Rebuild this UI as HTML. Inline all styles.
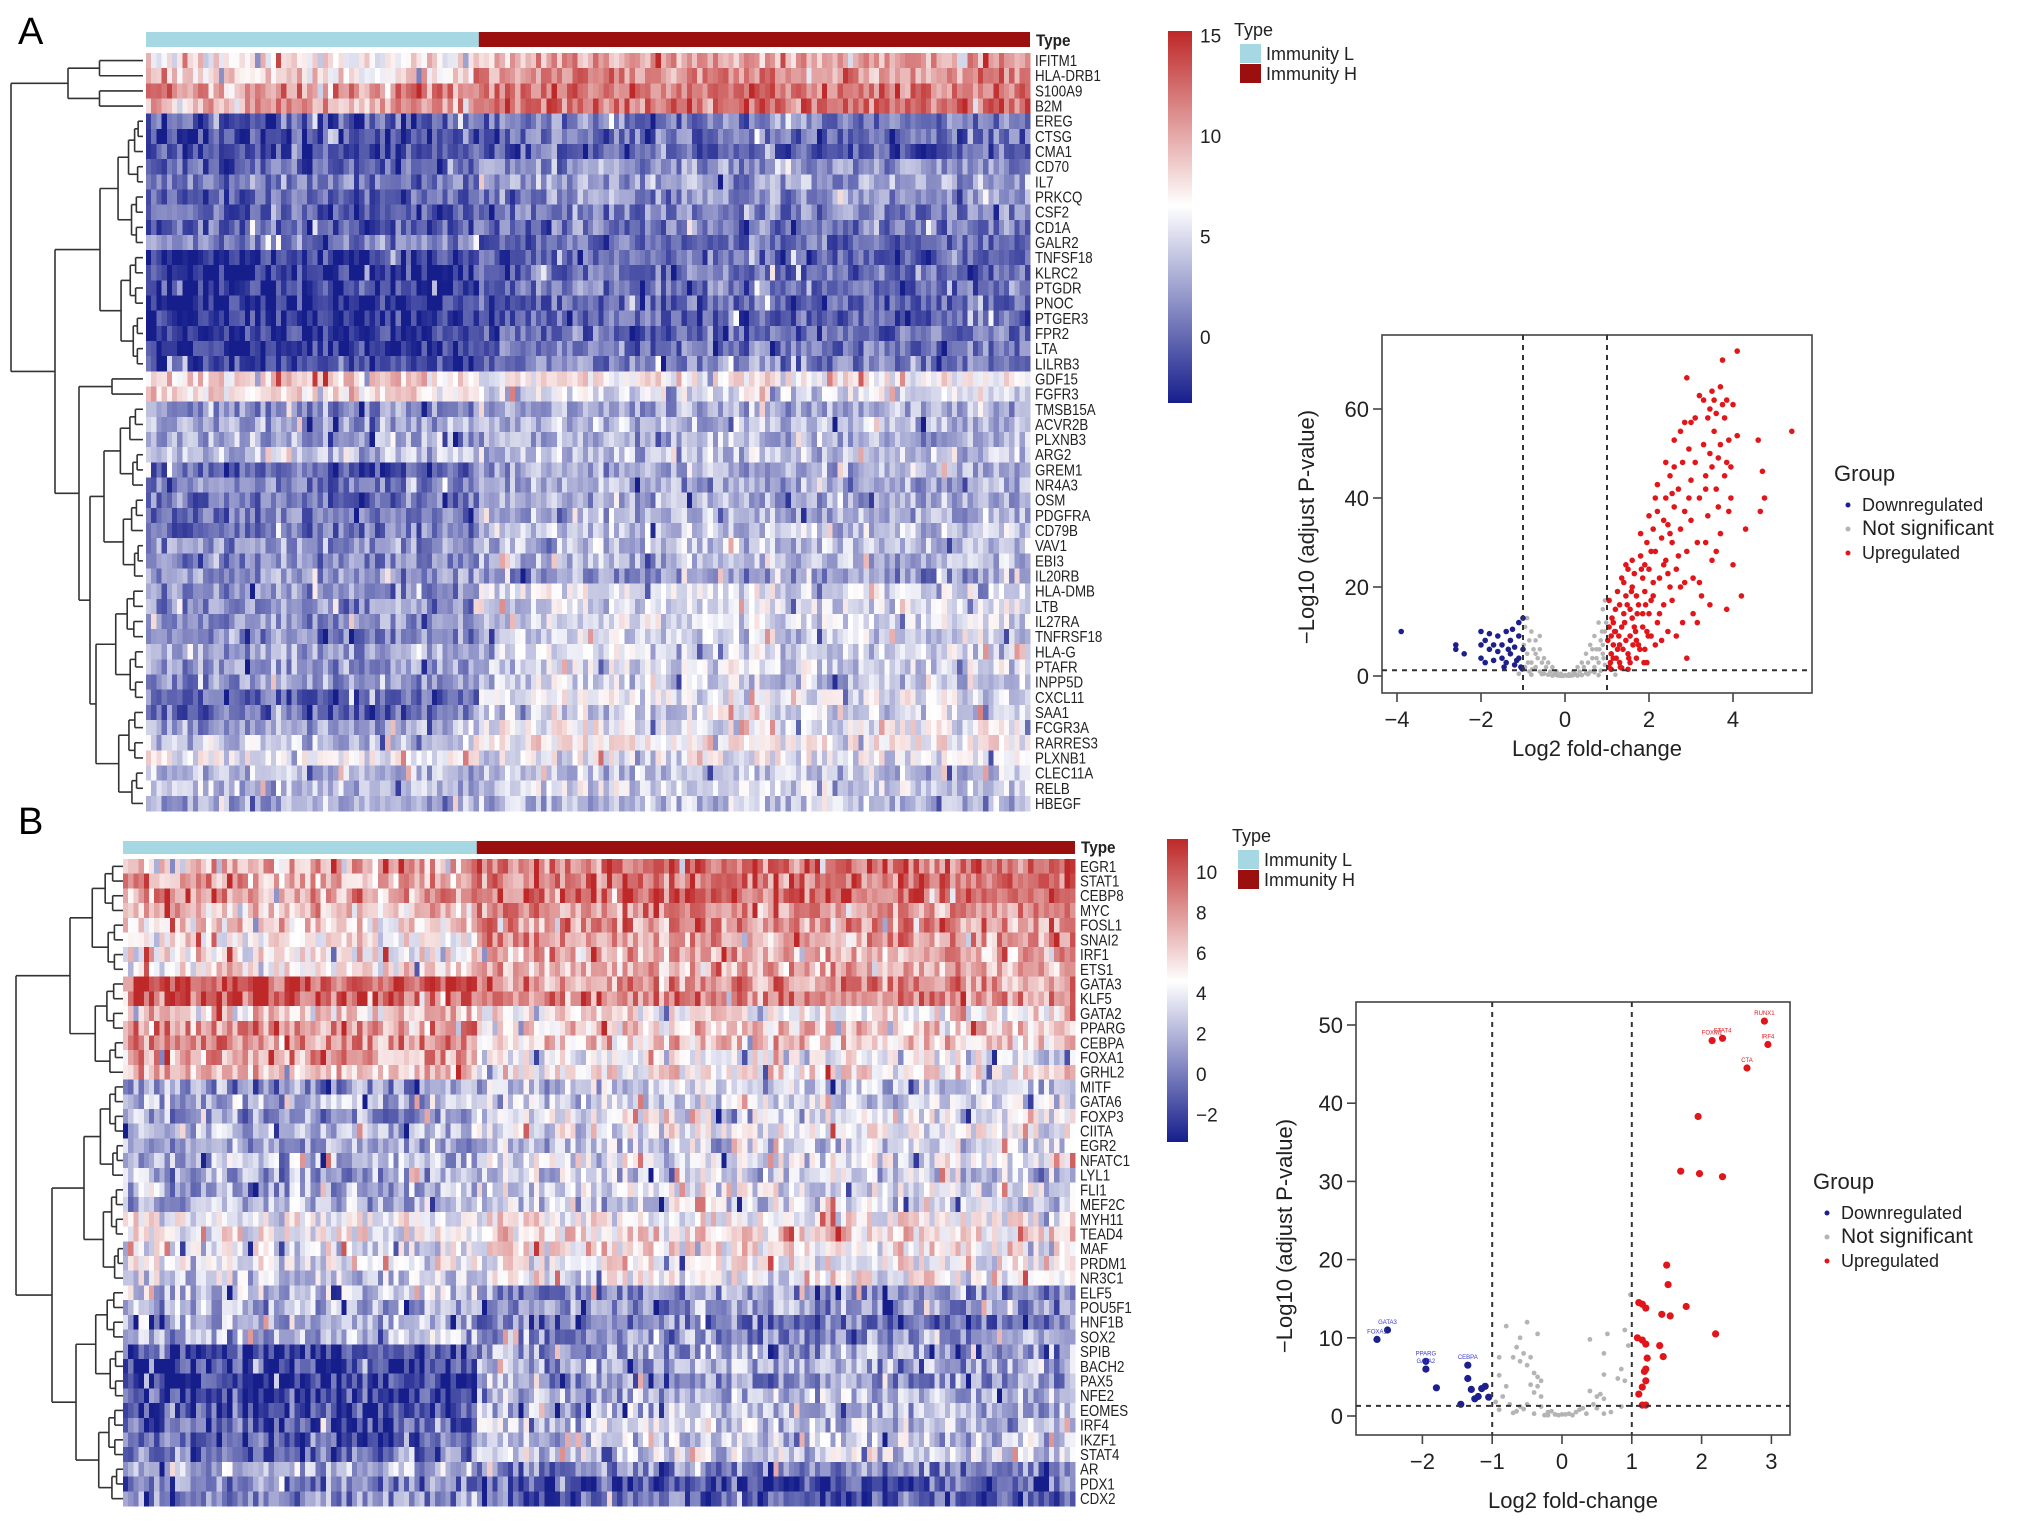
<!DOCTYPE html>
<html><head><meta charset="utf-8">
<style>
html,body{margin:0;padding:0;background:#fff;}
body{width:2031px;height:1527px;overflow:hidden;position:relative;font-family:"Liberation Sans",Arial,sans-serif;}
svg{position:absolute;left:0;top:0;}
</style></head>
<body>
<svg id="fig" width="2031" height="1527" viewBox="0 0 2031 1527" xmlns="http://www.w3.org/2000/svg">
  <defs>
    <linearGradient id="gradA" x1="0" y1="0" x2="0" y2="1">
      <stop offset="0" stop-color="rgb(190,40,40)"/>
      <stop offset="0.47" stop-color="#ffffff"/>
      <stop offset="1" stop-color="rgb(22,30,140)"/>
    </linearGradient>
    <linearGradient id="gradB" x1="0" y1="0" x2="0" y2="1">
      <stop offset="0" stop-color="rgb(190,40,40)"/>
      <stop offset="0.47" stop-color="#ffffff"/>
      <stop offset="1" stop-color="rgb(22,30,140)"/>
    </linearGradient>
  </defs>
  <text x="18" y="44" font-size="38" font-family="Liberation Sans">A</text>
  <text x="18" y="834" font-size="38" font-family="Liberation Sans">B</text>
  <g id="heatA"></g>
  <g id="heatB"></g>
  <g id="volA"></g>
  <g id="volB"></g>
</svg>
<script>
// ===== Heatmap A data =====
const genesA = ["IFITM1","HLA-DRB1","S100A9","B2M","EREG","CTSG","CMA1","CD70","IL7","PRKCQ","CSF2","CD1A","GALR2","TNFSF18","KLRC2","PTGDR","PNOC","PTGER3","FPR2","LTA","LILRB3","GDF15","FGFR3","TMSB15A","ACVR2B","PLXNB3","ARG2","GREM1","NR4A3","OSM","PDGFRA","CD79B","VAV1","EBI3","IL20RB","HLA-DMB","LTB","IL27RA","TNFRSF18","HLA-G","PTAFR","INPP5D","CXCL11","SAA1","FCGR3A","RARRES3","PLXNB1","CLEC11A","RELB","HBEGF"];
const meanLowA = [7,8,11,10,0,-1,-1,0,1,0,0,0,1,-2,-2,-2,-2,-2,-2,-2,-1,8,8,2,3,3,4,0,1,0.5,1,1,2,1.5,2,2,2,2,1.5,2.5,2.5,2,0,0,3,4,6,3.5,4,3];
const meanHighA = [10,11,12,12,1,0.5,0,2,2.5,2,1.5,1,0.5,0,0.5,0.5,0,0,0.5,1,1.5,7,5,3,3.5,3,4,3,3,3,3.5,4,4,3.5,2,5.5,5,5,4.5,5,5,4.5,5.5,5,6,7,5.5,4,5,4];
const ticksA = [15,10,5,0];
// ===== Heatmap B data =====
const genesB = ["EGR1","STAT1","CEBP8","MYC","FOSL1","SNAI2","IRF1","ETS1","GATA3","KLF5","GATA2","PPARG","CEBPA","FOXA1","GRHL2","MITF","GATA6","FOXP3","CIITA","EGR2","NFATC1","LYL1","FLI1","MEF2C","MYH11","TEAD4","MAF","PRDM1","NR3C1","ELF5","POU5F1","HNF1B","SOX2","SPIB","BACH2","PAX5","NFE2","EOMES","IRF4","IKZF1","STAT4","AR","PDX1","CDX2"];
const meanLowB = [7,7,7.5,6,5.5,5,5,5.5,9.5,9.5,6,8,8,7.5,6.5,1,2,1,2,1.5,2,1.5,2,2,4,4.5,3.5,3.5,3,2.5,2,2,2,-1.5,-2,-2,-1.5,-1.5,-1,-1,0,2,0,0.5];
const meanHighB = [9,9,9.5,8,8,7.5,7,7,8,8.5,5,6,6,4,5,2.5,3,3.5,4,3,3.5,3,3.5,3,4.5,5.5,5,4.5,4.5,0.5,1,0,1,1.5,1.5,1,2,2,2.5,2.5,3,0.5,-1,-1];
const ticksB = [10,8,6,4,2,0,-2];
// ===== Volcano A data =====
const upAx = [1.05,1.1,1.1,1.15,1.2,1.05,1.3,1.3,1.35,1.4,1.45,1.5,1.5,1.55,1.6,1.6,1.65,1.7,1.7,1.75,1.8,1.85,1.9,1.9,1.95,2.0,2.0,2.05,2.1,2.1,2.15,2.2,2.2,2.25,2.3,2.35,2.4,2.4,2.45,2.5,2.5,2.55,2.6,2.6,2.65,2.7,2.75,2.8,2.8,2.85,2.85,2.9,2.9,2.95,3.0,3.0,3.05,3.1,3.1,3.15,3.2,3.25,3.3,3.3,3.35,3.4,3.45,3.45,3.5,3.5,3.55,3.6,3.6,3.65,3.7,3.7,3.75,3.8,3.8,3.85,3.9,3.9,4.0,4.1,4.0,4.1,3.85,4.2,4.3,4.65,4.75,4.7,4.6,5.4,2.9,3.6,3.2,1.25,1.35,1.45,1.55,1.65,1.75,1.85,1.95,2.05,2.15,2.25,2.35,2.45,2.55,2.65,2.75,1.15,1.2,1.4,1.6,1.8,2.0,2.2,2.4,2.6,2.75,3.0,3.2,3.4,3.55,3.75,3.95,3.65,3.35,3.05,2.95,1.1,1.3,1.5,1.7,1.9,2.1,2.3,2.5,2.7,1.25,1.55,1.45,1.85,2.15,2.35,2.55,3.35,3.5,3.7,3.85,1.05,1.15,1.35,1.95,2.05,2.45,2.85,3.15,3.45,3.95,1.02,1.08,1.12,1.18,1.22,1.28,1.32,1.38,1.42,1.48,1.52,1.58,1.62,1.68,1.72,1.78,1.82,1.88,1.92,1.98];
const upAy = [2,5,9,12,15,17,3,7,11,14,18,1.5,5,9,13,20,23,4,8,16,27,11,6,19,30,14,24,9,33,18,28,12,37,22,31,16,26,40,34,20,45,30,38,53,24,42,33,48,12,57,37,4,28,51,44,35,22,58,48,30,40,18,52,62,45,36,60,50,64,26,55,42,59,49,65,32,71,58,45,62,37,53,61,73,25,54,15,18,33,37,40,46,53,55,67,28,21,6,1.8,8,3,11,7,22,3,17,7,14,25,10,17,9,20,4,10,21,26,32,36,43,48,47,55,57,63,58,62,61,47,38,30,14,40,1.5,16,24,18,25,21,8,32,27,19,15,25,14,40,35,41,42,47,52,48,11,7,22,10,28,23,21,12,16,40,8,3,13,10,4,9,2,6,12,16,4,19,7,10,14,6,24,3,16,9];
const downAx = [-3.9,-2.6,-2.6,-2.4,-2,-2,-1.9,-1.8,-1.8,-1.7,-1.6,-1.6,-1.5,-1.5,-1.4,-1.4,-1.3,-1.3,-1.2,-1.2,-1.1,-1.1,-1.1,-1.05,-1.0,-1.0,-2,-1.9,-1.7,-1.25,-1.45,-1.15,-1.02,-1.35];
const downAy = [10,7,6,5,10,7,8,9.5,6,3.5,9,5.5,7,4,10,3,8,5,2.5,6.5,12,4,9,2,13,6,4,3,7,10.5,2,3.5,1.6,6];
const nsAx = [-0.9,-0.8,-0.7,-0.6,-0.5,-0.4,-0.3,-0.2,-0.1,0,0.1,0.2,0.3,0.4,0.5,0.6,0.7,0.8,0.9,0.95,-0.95,-0.85,-0.75,-0.65,-0.55,-0.45,-0.35,-0.25,0.25,0.35,0.45,0.55,0.65,0.75,0.85,0.95,-0.9,-0.8,-0.7,-0.6,-0.5,0.5,0.6,0.7,0.8,0.9,-0.95,-0.85,0.85,0.95,-0.15,0.15,-0.05,0.05,-0.98,0.98,0.9,0.75,-0.7,-0.6,0.65,-0.4,0.4,1.2,-1.1,0.8,-0.8,0.3,-0.3,0.1,-0.1,0.2,-0.2,0.55,-0.55,0.7,0.88,0.92,0.82,-0.88,-0.78];
const nsAy = [13,10,8,6,4,3,2,1,0.5,0.2,0.4,1,2,3,5,7,9,12,15,17,11,8,6,4,3,2,1,0.5,0.4,1,2,3,4,6,8,10,5,3,2,1,0.5,0.6,1,2,3,5,2,1,1.2,2.5,0.1,0.1,0,0.1,7,12,7,4,5,9,6,0.3,0.2,0.3,0.5,0.2,0.3,0.1,0.1,0.05,0.05,0.2,0.2,0.4,0.4,0.8,10,4,6,3,1.5];
const xTicksA = [-4,-2,0,2,4];
const yTicksA = [0,20,40,60];
// ===== Volcano B data =====
const upBx = [2.9,2.15,2.3,2.95,2.65,1.95,1.7,1.97,2.3,1.5,1.52,1.78,1.43,1.55,1.1,1.15,1.2,2.2,1.08,1.15,1.2,1.4,1.45,1.22,1.2,1.18,1.2,1.15,1.1,1.2,1.15];
const upBy = [50.5,48,48.3,47.5,44.5,38.3,31.3,31,30.6,19.3,16.8,14,13,12.8,14.5,14.3,13.8,10.5,10,9.7,9.2,9,7.6,7.4,6,5.7,4.5,3.7,2.8,1.4,1.4];
const downBx = [-2.65,-2.5,-1.95,-1.95,-1.8,-1.35,-1.35,-1.3,-1.1,-1.2,-1.25,-1.45,-1.05,-1.15];
const downBy = [9.8,11,6,7,3.6,6.5,4.8,3.4,3.8,2.5,2.2,1.5,2.4,3.5];
const nsBx = [-0.8,-0.5,-0.35,-0.6,-0.65,-0.55,-0.45,-0.6,-0.9,-0.7,-0.5,-0.4,-0.35,-0.3,-0.45,-0.35,-0.8,-0.9,-0.4,-0.3,-0.85,-0.75,-0.6,-0.5,-0.3,-0.2,-0.1,0,0.1,0.2,-0.9,-0.7,-0.4,0.3,0.4,0.5,0.55,0.6,0.45,0.6,0.4,0.65,0.6,0.6,0.8,0.85,0.9,0.95,0.9,0.98,0.85,-0.55,-0.25,0.15,-0.15,0.25,0.5,0.7,-0.2,-0.05,0.05,0.35,-0.65,-0.95];
const nsBy = [11.5,12,10.5,10,8.8,8,7.5,7,7.5,7.5,6.5,5.5,5,4.5,4,3.8,3.8,5.2,3,2.5,2.5,1.5,1.2,1.5,1.2,0.5,0.2,0.2,0.3,0.5,0.8,0.4,0.3,1,3.2,2.5,2.8,2.2,1.5,0.3,9.8,10.5,8,5.3,4.8,6,11,9,4.5,15.5,1.2,0.9,0.1,0.1,0.6,0.8,1,0.5,0.1,0.1,0.2,0.3,0.6,1.8];
const labelsB = [["RUNX1",2.9,50.5],["FOXM1",2.15,48],["STAT4",2.3,48.3],["IRF4",2.95,47.5],["CTA",2.65,44.5],["FOXA1",-2.65,9.8],["GATA3",-2.5,11],["PPARG",-1.95,7],["GATA2",-1.95,6],["CEBPA",-1.35,6.5]];
const xTicksB = [-2,-1,0,1,2,3];
const yTicksB = [0,10,20,30,40,50];

const NS = "http://www.w3.org/2000/svg";
function mk(tag, attrs, parent){
  const e = document.createElementNS(NS, tag);
  for (const k in attrs) e.setAttribute(k, attrs[k]);
  parent.appendChild(e);
  return e;
}
function hash(i, j, s){
  let h = (i*374761393 + j*668265263 + s*2147483647) | 0;
  h = (h ^ (h >>> 13)) * 1274126177 | 0;
  h = h ^ (h >>> 16);
  return ((h >>> 0) % 10000) / 10000;
}
function colorOf(v, vmin, mid, vmax){
  let r,g,b;
  if (v < mid){
    const t = Math.max(0, Math.min(1, (mid - v)/(mid - vmin)));
    r = 255 + (22-255)*t; g = 255 + (30-255)*t; b = 255 + (140-255)*t;
  } else {
    const t = Math.max(0, Math.min(1, (v - mid)/(vmax - mid)));
    r = 255 + (190-255)*t; g = 255 + (40-255)*t; b = 255 + (40-255)*t;
  }
  return "rgb("+Math.round(r)+","+Math.round(g)+","+Math.round(b)+")";
}
function addText(parent, x, y, str, size, anchor, extra){
  const t = mk("text", Object.assign({x:x, y:y, "font-size":size, "text-anchor":anchor||"start", fill:"#222"}, extra||{}), parent);
  t.textContent = str;
  return t;
}

function drawHeatmap(g, cfg){
  const nR = cfg.genes.length, nC = cfg.nCols;
  const cw = (cfg.x1 - cfg.x0)/nC, rh = (cfg.y1 - cfg.y0)/nR;
  const yOf = i => cfg.y0 + (i + 0.5)*rh;
  const tbL = mk("rect", {x:cfg.x0, y:cfg.ty0, width:cfg.nLow*cw, height:cfg.ty1-cfg.ty0, fill:"#a6d8e4"}, g);
  
  
  const tbH = mk("rect", {x:cfg.x0 + cfg.nLow*cw, y:cfg.ty0, width:(nC-cfg.nLow)*cw, height:cfg.ty1-cfg.ty0, fill:"#9b0f0f"}, g);
  
  
  const tl = addText(g, cfg.x1+6, cfg.ty1-1, "Type", 17, "start", {"font-family":"Liberation Sans Narrow, Liberation Sans, sans-serif", "font-weight":"bold", transform:"translate("+(cfg.x1+6)+",0) scale(0.9,1) translate("+(-(cfg.x1+6))+",0)"});
  
  
  const cells = mk("g", {"shape-rendering":"crispEdges"}, g);
  for (let i=0;i<nR;i++){
    for (let j=0;j<nC;j++){
      const base = j < cfg.nLow ? cfg.low[i] : cfg.high[i];
      let n = (hash(i,j,cfg.seed) - 0.5)*5 + (hash(j,7,cfg.seed)-0.5)*1.5;
      const o = hash(i,j,cfg.seed+11);
      if (o > 0.965) n += 4; else if (o < 0.035) n -= 4;
      const v = base + n;
      const c = mk("rect", {x:(cfg.x0 + j*cw).toFixed(2), y:(cfg.y0 + i*rh).toFixed(2), width:(cw+0.4).toFixed(2), height:(rh+0.4).toFixed(2), fill:colorOf(v, cfg.vmin, cfg.mid, cfg.vmax)}, cells);
      
      
    }
  }
  const lx = cfg.x1+5;
  const lab = mk("g", {transform:"translate("+lx+",0) scale(0.86,1)"}, g);
  for (let i=0;i<nR;i++){
    const t = addText(lab, 0, yOf(i)+5.5, cfg.genes[i], cfg.labelSize, "start", {"font-family":"Liberation Sans Narrow, Liberation Sans, sans-serif"});
    
    
  }
  const dg = mk("g", {stroke:"#333", "stroke-width":1.6, fill:"none"}, g);
  function line(x1,y1,x2,y2){ mk("line",{x1:x1,y1:y1,x2:x2,y2:y2},dg); }
  function auto(lo, hi, x){
    if (lo === hi) return {x:cfg.dx1, y:yOf(lo)};
    const m = Math.floor((lo+hi)/2);
    const cx = x + (cfg.dx1 - x)*0.42;
    const a = auto(lo, m, cx), b = auto(m+1, hi, cx + (hi-lo>3?3:0));
    join(x, a, b);
    return {x:x, y:(a.y+b.y)/2};
  }
  function join(x, a, b){
    line(x, a.y, x, b.y); line(x, a.y, a.x, a.y); line(x, b.y, b.x, b.y);
  }
  function walk(node){
    if (node[0] === 'r') return auto(node[1], node[2], node[3]);
    const a = walk(node[2]), b = walk(node[3]);
    join(node[1], a, b);
    return {x:node[1], y:(a.y+b.y)/2};
  }
  walk(cfg.tree);
  const cb = mk("rect", {x:cfg.cbx, y:cfg.cby0, width:cfg.cbw, height:cfg.cby1-cfg.cby0, fill:cfg.grad}, g);
  
  
  const cbScale = v => cfg.cbZero - v*cfg.cbPer;
  cfg.ticks.forEach(v=>{
    const t = addText(g, cfg.cbx+cfg.cbw+8, cbScale(v)+7, String(v).replace('-','\u2212'), 19, "start");
    
    
  });
  const lg = mk("g", {}, g);
  
  
  addText(lg, cfg.lx-4, cfg.ly, "Type", 18, "start");
  const s1 = mk("rect", {x:cfg.lx+2, y:cfg.ly+8, width:21, height:19, fill:"#a6d8e4"}, lg);
  
  
  addText(lg, cfg.lx+28, cfg.ly+24, "Immunity  L", 18, "start");
  const s2 = mk("rect", {x:cfg.lx+2, y:cfg.ly+28, width:21, height:19, fill:"#9b0f0f"}, lg);
  
  
  addText(lg, cfg.lx+28, cfg.ly+44, "Immunity  H", 18, "start");
}

drawHeatmap(document.getElementById("heatA"), {
  genes:genesA, low:meanLowA, high:meanHighA, nCols:170, nLow:64, seed:3,
  x0:146, x1:1030, y0:53, y1:811, ty0:32, ty1:47, labelSize:15.5,
  vmin:-3, mid:6.5, vmax:15, dx1:143,
  tree:['n',11,['r',0,3,68],['n',55,['r',4,20,100],['n',79,['r',21,22,112],['n',90,['r',23,34,104],['r',35,49,96]]]]],
  cbx:1168, cbw:24, cby0:31, cby1:403, cbZero:337, cbPer:20.1, grad:"url(#gradA)", ticks:ticksA,
  lx:1238, ly:36
});
drawHeatmap(document.getElementById("heatB"), {
  genes:genesB, low:meanLowB, high:meanHighB, nCols:183, nLow:68, seed:9,
  x0:123, x1:1075, y0:859, y1:1506, ty0:841, ty1:854, labelSize:15.5,
  vmin:-3, mid:4.5, vmax:11.5, dx1:123,
  tree:['n',16,['r',0,14,70],['n',52,['r',15,28,84],['r',29,43,76]]],
  cbx:1167, cbw:21, cby0:839, cby1:1142, cbZero:1074, cbPer:20.2, grad:"url(#gradB)", ticks:ticksB,
  lx:1236, ly:842
});

function drawVolcano(g, cfg){
  const xs = v => cfg.xz + v*cfg.xp, ys = v => cfg.yz - v*cfg.yp;
  const box = mk("rect", {x:cfg.bx0, y:cfg.by0, width:cfg.bx1-cfg.bx0, height:cfg.by1-cfg.by0, fill:"none", stroke:"#444", "stroke-width":1.6}, g);
  
  
  const cp = "clip"+cfg.id;
  const cl = mk("clipPath", {id:cp}, g);
  mk("rect", {x:cfg.bx0, y:cfg.by0, width:cfg.bx1-cfg.bx0, height:cfg.by1-cfg.by0}, cl);
  const pts = mk("g", {"clip-path":"url(#"+cp+")"}, g);
  function series(X, Y, col, r, name){
    for (let i=0;i<X.length;i++){
      const c = mk("circle", {cx:xs(X[i]).toFixed(1), cy:ys(Y[i]).toFixed(1), r:r, fill:col}, pts);
      
      
    }
  }
  series(cfg.nsX, cfg.nsY, "#b4b4b4", cfg.rs, "point-not-significant");
  series(cfg.dnX, cfg.dnY, "#1c1f8c", cfg.r, "point-downregulated");
  series(cfg.upX, cfg.upY, "#e0161b", cfg.r, "point-upregulated");
  const dl = mk("g", {stroke:"#333", "stroke-width":2, "stroke-dasharray":"5,5", fill:"none"}, g);
  
  
  mk("line", {x1:xs(-1), y1:cfg.by0, x2:xs(-1), y2:cfg.by1}, dl);
  mk("line", {x1:xs(1), y1:cfg.by0, x2:xs(1), y2:cfg.by1}, dl);
  mk("line", {x1:cfg.bx0, y1:ys(1.3), x2:cfg.bx1, y2:ys(1.3)}, dl);
  const ax = mk("g", {stroke:"#444", "stroke-width":1.6}, g);
  cfg.xTicks.forEach(v=>{
    mk("line", {x1:xs(v), y1:cfg.by1, x2:xs(v), y2:cfg.by1+9}, ax);
    const t = addText(g, xs(v), cfg.by1+34, String(v).replace('-','\u2212'), 22, "middle");
    
    
  });
  cfg.yTicks.forEach(v=>{
    mk("line", {x1:cfg.bx0, y1:ys(v), x2:cfg.bx0-9, y2:ys(v)}, ax);
    const t = addText(g, cfg.bx0-13, ys(v)+8, String(v), 22, "end");
    
    
  });
  const xt = addText(g, (cfg.bx0+cfg.bx1)/2, cfg.xtY, "Log2 fold-change", 22, "middle");
  
  
  const yt = addText(g, 0, 0, "\u2212Log10 (adjust P-value)", 22, "middle", {transform:"translate("+cfg.ytX+","+cfg.ytY+") rotate(-90)"});
  
  
  (cfg.labels||[]).forEach(l=>{
    const t = addText(g, xs(l[1]), ys(l[2])-6, l[0], 6, "middle", {fill: l[1] > 0 ? "#e0161b" : "#3a3acc"});
    
    
  });
  const lg = mk("g", {}, g);
  
  
  addText(lg, cfg.lx, cfg.ly, "Group", 22, "start");
  const items = [["Downregulated","#1c1f8c",18],["Not significant","#b4b4b4",21],["Upregulated","#e0161b",18]];
  items.forEach((it,k)=>{
    const yy = cfg.ly + 30 + k*cfg.lstep;
    const d = mk("circle", {cx:cfg.lx+14, cy:yy-6, r:2.5, fill:it[1]}, lg);
    
    
    addText(lg, cfg.lx+28, yy, it[0], it[2], "start");
  });
}

drawVolcano(document.getElementById("volA"), {
  id:"A", bx0:1382, bx1:1812, by0:335, by1:693, xz:1565, xp:42, yz:676, yp:4.45,
  upX:upAx, upY:upAy, dnX:downAx, dnY:downAy, nsX:nsAx, nsY:nsAy, r:2.8, rs:2.3,
  xTicks:xTicksA, yTicks:yTicksA, xtY:756, ytX:1314, ytY:527,
  lx:1834, ly:481, lstep:24
});
drawVolcano(document.getElementById("volB"), {
  id:"B", bx0:1356, bx1:1790, by0:1002, by1:1435, xz:1562, xp:69.8, yz:1416, yp:7.82,
  upX:upBx, upY:upBy, dnX:downBx, dnY:downBy, nsX:nsBx, nsY:nsBy, labels:labelsB, r:3.6, rs:2.4,
  xTicks:xTicksB, yTicks:yTicksB, xtY:1508, ytX:1292, ytY:1236,
  lx:1813, ly:1189, lstep:24
});
</script>
</body></html>
